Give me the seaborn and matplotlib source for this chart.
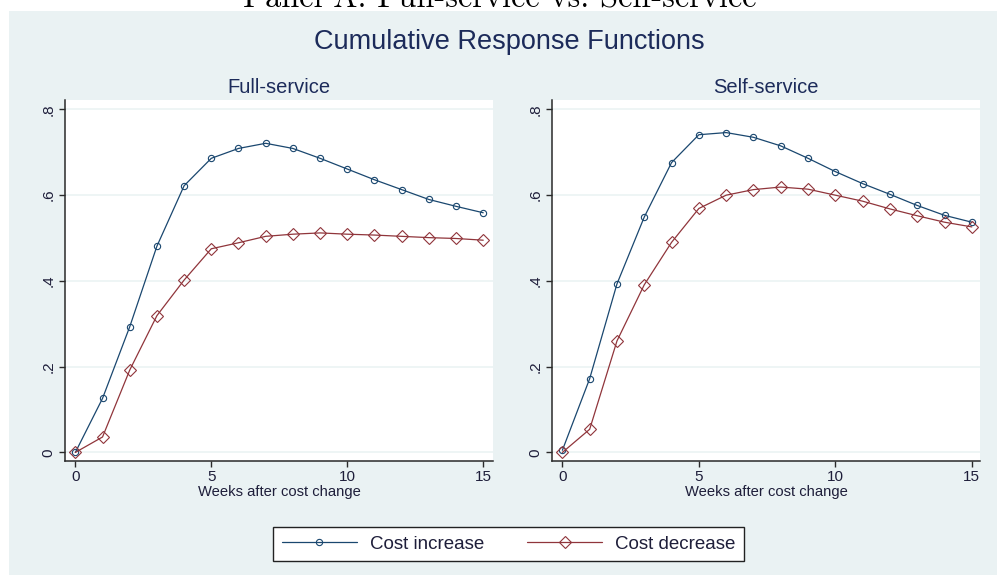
import matplotlib
matplotlib.use("Agg")
import matplotlib.pyplot as plt
from matplotlib.patches import Rectangle
import seaborn as sns
import pandas as pd

# Weeks after the cost change
weeks = list(range(16))

# Cumulative pass-through, full-service stations
full_increase = [0.000, 0.126, 0.293, 0.481, 0.622, 0.686, 0.709, 0.721,
                 0.709, 0.686, 0.661, 0.636, 0.613, 0.590, 0.574, 0.559]
full_decrease = [0.000, 0.036, 0.192, 0.319, 0.402, 0.475, 0.489, 0.504,
                 0.509, 0.512, 0.509, 0.507, 0.504, 0.501, 0.499, 0.495]

# Cumulative pass-through, self-service stations
self_increase = [0.005, 0.172, 0.393, 0.549, 0.676, 0.741, 0.746, 0.735,
                 0.715, 0.686, 0.655, 0.627, 0.602, 0.576, 0.553, 0.537]
self_decrease = [0.000, 0.054, 0.260, 0.391, 0.490, 0.569, 0.600, 0.613,
                 0.619, 0.614, 0.600, 0.586, 0.568, 0.552, 0.537, 0.526]

panel_titles = ["Full-service", "Self-service"]
series_names = ["Cost increase", "Cost decrease"]
y_ticks = [0, 0.2, 0.4, 0.6, 0.8]
y_tick_labels = ["0", ".2", ".4", ".6", ".8"]
x_ticks = [0, 5, 10, 15]

sns.set_theme(style="white")
plt.rcParams["font.family"] = ["Liberation Sans", "DejaVu Sans"]

BG = "#EAF2F3"
NAVY = "#1A476F"
MAROON = "#90353B"
TITLE_C = "#1C2B5A"
TEXT_C = "#1E1E3A"

W, H = 997, 575
fig = plt.figure(figsize=(W / 100, H / 100), dpi=100, facecolor="white")

# graph region
fig.patches.append(Rectangle((9 / W, 0), 1 - 9 / W, 1 - 11 / H,
                             transform=fig.transFigure, facecolor=BG,
                             edgecolor="none", zorder=-10))

panels = [
    (full_increase, full_decrease, (65, 493), 15.36),
    (self_increase, self_decrease, (552, 980), 15.30),
]

axes = []
for (inc, dec, (x0, x1), xmax), ttl in zip(panels, panel_titles):
    ax = fig.add_axes([x0 / W, 1 - 461 / H, (x1 - x0) / W, (461 - 100) / H])
    ax.set_zorder(1)
    axes.append(ax)
    ax.set_facecolor("white")
    df = pd.DataFrame({
        "week": weeks * 2,
        "value": inc + dec,
        "series": [series_names[0]] * len(weeks) + [series_names[1]] * len(weeks),
    })
    sns.lineplot(data=df[df.series == series_names[0]], x="week", y="value",
                 ax=ax, color=NAVY, marker="o", markersize=4.5,
                 markerfacecolor="none", markeredgecolor=NAVY,
                 markeredgewidth=0.8, linewidth=0.9, label=series_names[0],
                 zorder=3)
    sns.lineplot(data=df[df.series == series_names[1]], x="week", y="value",
                 ax=ax, color=MAROON, marker="D", markersize=6.5,
                 markerfacecolor="none", markeredgecolor=MAROON,
                 markeredgewidth=0.8, linewidth=0.9, label=series_names[1],
                 zorder=3)
    ax.get_legend().remove()

    ax.set_xlim(-0.38, xmax)
    ax.set_ylim(-0.02, 0.822)
    ax.set_yticks(y_ticks)
    ax.set_yticklabels(y_tick_labels, rotation=90, va="center")
    ax.set_xticks(x_ticks)
    ax.yaxis.grid(True, color=BG, linewidth=1.1, zorder=0)
    ax.xaxis.grid(False)
    ax.set_axisbelow(True)
    for side in ("top", "right"):
        ax.spines[side].set_visible(False)
    for side in ("left", "bottom"):
        ax.spines[side].set_color("#2a2a2a")
        ax.spines[side].set_linewidth(1.1)
    ax.tick_params(axis="both", which="major", direction="out", length=4,
                   width=1.0, color="#2a2a2a", labelsize=11,
                   labelcolor=TEXT_C, bottom=True, left=True)
    ax.tick_params(axis="x", pad=2.5)
    ax.tick_params(axis="y", pad=3)
    ax.set_ylabel("")
    ax.set_xlabel("Weeks after cost change", fontsize=10.6, color=TEXT_C)
    ax.xaxis.set_label_coords(0.5, -0.066)
    ax.set_title(ttl, fontsize=14.5, color=TITLE_C, pad=5)

fig.text(509 / W, 1 - 42 / H, "Cumulative Response Functions",
         ha="center", va="center", fontsize=19.5, color=TITLE_C)

fig.text(0.501, 1 - 8 / H, "Panel A: Full-service vs. Self-service",
         ha="center", va="baseline", fontsize=23.3, color="black",
         family="cmr10")

handles, labels = axes[0].get_legend_handles_labels()
leg = fig.legend(handles, labels, loc="center", ncol=2,
                 bbox_to_anchor=(508.5 / W, 1 - 544 / H), frameon=True,
                 fancybox=False, edgecolor="#222222", facecolor="white",
                 fontsize=13.5, handlelength=4.0, handletextpad=0.7,
                 columnspacing=2.3, borderpad=0.45, framealpha=1)
leg.get_frame().set_linewidth(1.0)
for t in leg.get_texts():
    t.set_color(TEXT_C)

fig.savefig("out.png", dpi=100, facecolor="white")
